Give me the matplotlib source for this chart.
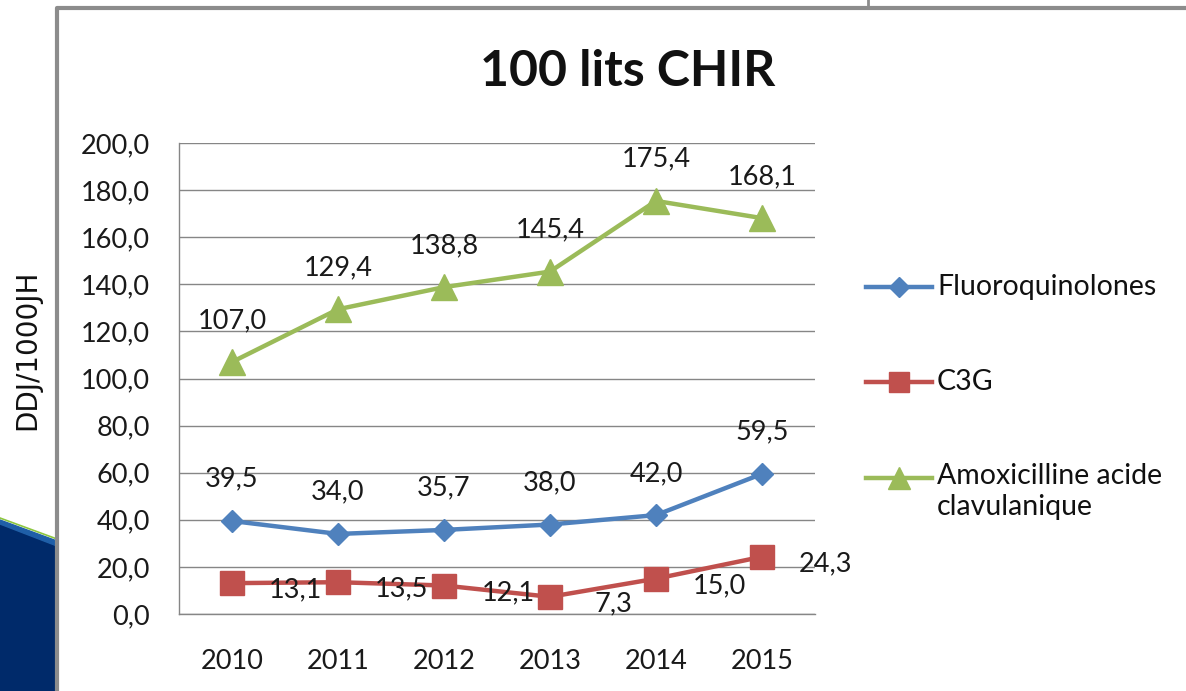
import matplotlib.pyplot as plt
from matplotlib.patches import Polygon
from matplotlib.lines import Line2D

# data
years = ["2010", "2011", "2012", "2013", "2014", "2015"]
fluoro = [39.5, 34.0, 35.7, 38.0, 42.0, 59.5]
c3g = [13.1, 13.5, 12.1, 7.3, 15.0, 24.3]
amox = [107.0, 129.4, 138.8, 145.4, 175.4, 168.1]
noms = ["Fluoroquinolones", "C3G", "Amoxicilline acide\nclavulanique"]

bleu = "#4F81BD"
rouge = "#C0504D"
vert = "#9BBB59"
police = "Lato"

W, H = 1186, 691
fig = plt.figure(figsize=(W / 100, H / 100), dpi=100)
fig.patch.set_facecolor("white")

def fx(px):
    return px / W

def fy(py):
    return 1 - py / H

# decoration de la diapo (coin bas gauche)
deco = fig.add_axes([0, 0, 1, 1], zorder=-5)
deco.set_xlim(0, W)
deco.set_ylim(H, 0)
deco.axis("off")
deco.add_patch(Polygon([(0, 524), (57, 546), (57, H), (0, H)], color="#002a6a"))
deco.add_patch(Polygon([(0, 520), (57, 541), (57, 546), (0, 524)], color="#1f5fa8"))
deco.plot([0, 57], [518, 539], color="#8cc63f", lw=1.2)
# cadre du graphique
deco.plot([57, 57, W + 5], [H + 5, 8, 8], color="#8c8c8c", lw=3, solid_capstyle="butt")
deco.plot([868, 868], [0, 8], color="#8c8c8c", lw=2)

# zone de tracé
ax = fig.add_axes([fx(179), fy(614), fx(636), (614 - 143) / H])
x = list(range(len(years)))
ax.plot(x, fluoro, color=bleu, lw=3.2, marker="D", ms=11, zorder=3)
ax.plot(x, c3g, color=rouge, lw=3.2, marker="s", ms=17, zorder=3)
ax.plot(x, amox, color=vert, lw=3.2, marker="^", ms=19, zorder=3)

ax.set_xlim(-0.5, len(years) - 0.5)
ax.set_ylim(0, 200)
ax.set_yticks(range(0, 201, 20))
ax.set_yticklabels([f"{v},0" for v in range(0, 201, 20)])
ax.set_xticks(x)
ax.set_xticklabels(years)
ax.tick_params(length=0, labelsize=19.5, colors="#1a1a1a")
ax.tick_params(axis="y", pad=21)
ax.tick_params(axis="x", pad=25)
for lab in ax.get_xticklabels() + ax.get_yticklabels():
    lab.set_fontfamily(police)
ax.grid(axis="y", color="#868686", lw=1)
ax.set_axisbelow(True)
for s in ["top", "right"]:
    ax.spines[s].set_visible(False)
for s in ["left", "bottom"]:
    ax.spines[s].set_color("#868686")
    ax.spines[s].set_linewidth(1)

def fmt(v):
    return f"{v:.1f}".replace(".", ",")

for i in x:
    ax.annotate(fmt(fluoro[i]), (i, fluoro[i]), xytext=(0, 30), textcoords="offset points",
                ha="center", va="center", fontsize=19.5, family=police, color="#1a1a1a")
    ax.annotate(fmt(amox[i]), (i, amox[i]), xytext=(0, 30), textcoords="offset points",
                ha="center", va="center", fontsize=19.5, family=police, color="#1a1a1a")
    ax.annotate(fmt(c3g[i]), (i, c3g[i]), xytext=(46, -5), textcoords="offset points",
                ha="center", va="center", fontsize=19.5, family=police, color="#1a1a1a")

fig.text(fx(628), fy(72), "100 lits CHIR", ha="center", va="center",
         fontsize=36, fontweight="bold", family=police, color="#111111")
fig.text(fx(27), fy(350), "DDJ/1000JH", rotation=90, ha="center", va="center",
         fontsize=20, family="DejaVu Sans", color="#111111")

# légende
couleurs = [bleu, rouge, vert]
marqueurs = ["D", "s", "^"]
tailles = [10, 15, 16]
ys = [287, 382, 478]
for nom, c, m, t, yy in zip(noms, couleurs, marqueurs, tailles, ys):
    fig.add_artist(Line2D([fx(866), fx(932)], [fy(yy), fy(yy)], color=c, lw=3.2))
    fig.add_artist(Line2D([fx(899)], [fy(yy)], color=c, marker=m, ms=t, lw=0))
    if "\n" in nom:
        fig.text(fx(937), fy(yy - 15), nom, ha="left", va="top",
                 fontsize=20.5, family=police, color="#111111", linespacing=1.25)
    else:
        fig.text(fx(937), fy(yy), nom, ha="left", va="center",
                 fontsize=20.5, family=police, color="#111111")

fig.savefig("out.png", dpi=100)
